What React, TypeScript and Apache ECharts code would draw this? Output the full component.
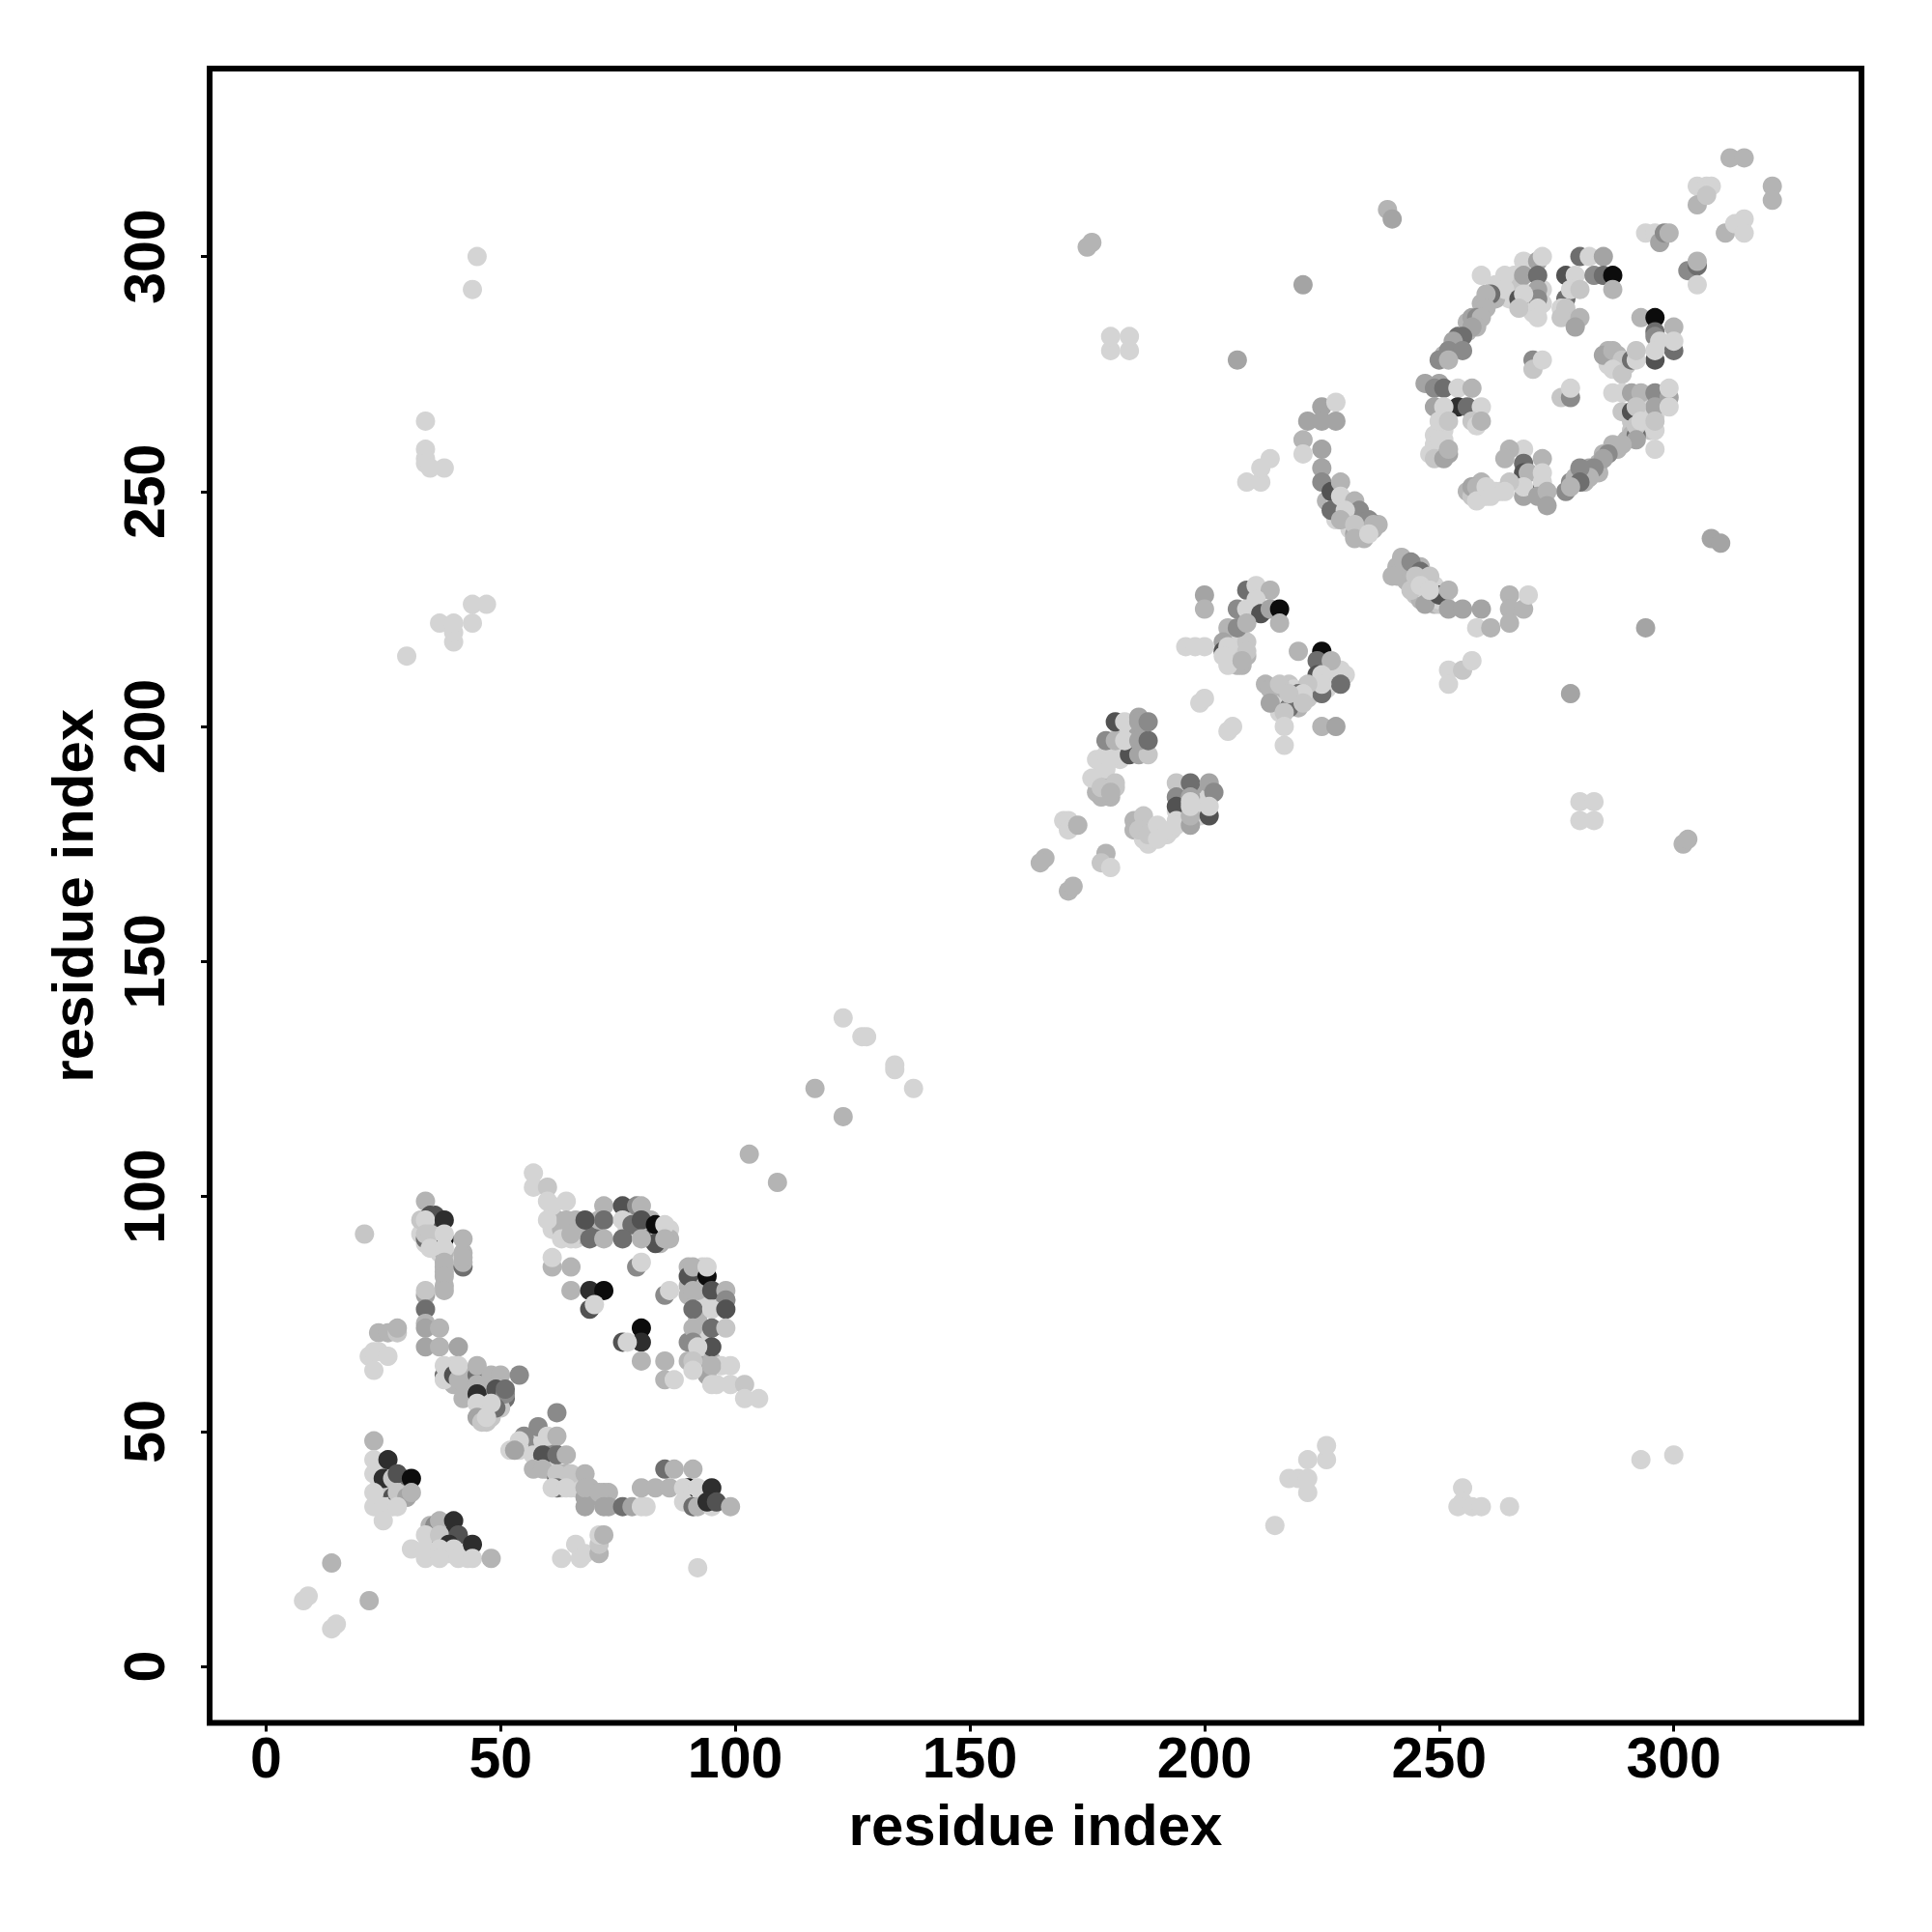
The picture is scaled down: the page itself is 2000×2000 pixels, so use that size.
import React, { useEffect, useRef } from "react";
import * as echarts from "echarts";

type Contact = [number, number, number];

const tickValues = [0, 50, 100, 150, 200, 250, 300];
const axisTitle = "residue index";
// grey strength level per contact: 1 faint ... 9 strongest
const levelGreys = ["#d4d4d4", "#c6c6c6", "#b4b4b4", "#a4a4a4", "#8a8a8a", "#6e6e6e", "#525252", "#2e2e2e", "#0c0c0c"];

const denseLower: Contact[] = [
  [40,64,1],[40,60,3],[42,60,3],[43,62,3],[43,59,3],[44,62,3],[47,60,4],[47,58,1],[46,56,1],[48,58,2],[47,55,1],[48,54,2],[47,52,2],[49,57,2],[50,58,3],[51,57,6],[46,59,2],[45,61,3],[50,55,2],[48,53,2],
  [54,46,1],[55,47,1],[56,46,1],[56,48,1],[57,47,1],[58,47,5],[58,45,1],[59,48,1],[60,47,1],[61,46,5],[60,42,3],[60,44,5],[61,43,1],[63,41,3],[63,39,7],[63,38,1],[64,41,3],[66,40,3],[66,38,1],[65,38,1],[67,38,1],[69,38,3],[69,36,4],[68,36,4],[72,37,3],[73,37,3],[73,34,4],[81,34,1],
  [24,42,1],[24,40,1],[24,37,1],[24,34,1],[26,36,1],[26,37,2],[27,36,7],[29,38,3],[29,36,3],[30,38,2],[29,40,6],[26,34,1],[27,34,1],
  [35,30,3],[36,29,3],[36,27,1],[36,25,1],[38,27,1],[38,25,1],[35,25,1],[37,30,3],[38,29,3],[39,28,8],[39,24,1],[42,25,1],[42,24,1],[43,23,1],
  [33,92,1],[34,90,1],[36,91,1],[37,90,1],[36,89,1],[36,93,2],[33,95,2],[36,96,7],[37,88,1],[38,88,3],[38,85,3],[38,84,3],[38,81,3],[42,88,3],
  [61,93,1],[61,96,1],[62,95,3],[63,93,3],[64,93,3],[66,91,1],[66,95,3],[67,92,3],[70,92,6],[71,95,3],[77,95,1],[77,93,1],[81,92,3],[82,91,7],[84,92,3],[84,90,3],[86,93,1],[86,91,3],[82,95,3],[61,98,1],
  [90,85,3],[92,84,3],[93,80,1],[93,85,1],[90,81,3],[92,82,1],[90,79,3],[94,78,1],[93,76,1],[90,69,5],[93,70,1],[93,66,1],[92,64,3],[90,65,3],[93,64,4],[95,65,3],[94,62,4],[97,64,1],[96,60,1],[98,78,3],[92,74,3],[92,80,3],
];

const denseUpper: Contact[] = [
  [205,219,1],[206,218,1],[206,216,1],[207,215,1],[208,217,1],[209,218,2],[207,213,3],[208,213,3],[209,215,3],[206,214,2],[205,213,1],
  [177,188,1],[178,190,1],[179,188,2],[178,185,3],[180,185,3],[179,187,3],[181,187,2],[177,186,3],
  [213,209,3],[215,208,2],[216,206,2],[217,205,2],[219,205,2],[216,203,1],[215,205,1],[218,209,2],[220,204,3],[222,206,2],[217,208,3],[219,208,1],
  [228,212,1],[229,212,1],[229,210,1],[226,210,1],[225,212,1],[226,208,1],[224,208,1],
  [185,180,3],[185,178,3],[187,179,2],[189,178,1],[188,175,1],[187,176,1],[191,178,1],[192,177,1],[193,178,1],
  [199,184,1],[199,182,1],[198,186,4],[200,184,1],[199,181,1],[201,185,1],[194,182,1],[196,181,1],
  [182,199,1],[184,199,1],[183,195,1],[182,193,1],[180,193,1],[184,196,1],[183,199,1],[177,193,1],[186,199,4],
  [243,233,3],[243,231,3],[245,228,2],[246,227,3],[247,229,1],[248,227,2],[249,226,3],[250,226,2],[249,230,1],[247,231,1],[248,230,1],[251,227,1],[249,228,7],[250,227,1],[245,234,5],[246,234,3],[241,234,3],[241,232,3],[243,235,3],
  [249,262,1],[250,263,1],[251,263,1],[251,261,1],[249,260,1],[250,259,2],[252,258,4],[249,259,1],[250,258,3],[251,258,3],
  [262,294,1],[263,292,1],[265,295,1],[266,296,1],[266,293,1],[265,291,1],[267,294,2],[269,292,1],[270,290,1],[270,288,1],[272,290,1],[272,293,1],
  [291,265,2],[292,266,2],[294,266,1],[294,264,1],[295,263,2],[296,263,1],[296,266,1],[294,268,1],[291,263,2],
  [286,277,1],[288,277,1],[287,278,2],[288,279,3],[290,277,2],[286,280,3],
  [256,250,3],[259,249,1],[259,250,1],[260,249,1],[261,250,1],[262,250,1],[263,250,1],[258,249,3],[257,249,2],[259,252,3],
  [251,279,3],[254,283,6],[254,281,3],[256,284,3],[256,286,3],[257,287,4],[259,290,3],[260,291,3],[262,291,3],
  [278,252,5],[279,253,3],[281,254,6],[282,255,4],[284,256,3],[285,258,3],[288,259,3],[290,261,3],[291,262,3],[281,252,3],[284,254,3],
  [226,248,3],[228,246,1],[228,248,1],[228,244,1],[230,244,1],[230,248,2],[231,246,2],[231,244,1],[233,243,2],[233,241,3],[234,244,6],[235,243,3],[234,240,3],[236,242,3],[237,243,3],[231,242,1],[232,241,4],
];

const lowerBlockUpper: Contact[] = [
  [34,99,3],[42,85,6],[34,91,6],[38,91,9],[35,96,7],[35,95,7],[34,95,1],[38,95,8],[34,92,2],[35,92,2],[38,92,1],[42,91,3],[35,89,1],[38,89,1],[38,86,3],[42,86,3],[42,87,3],[38,83,3],[38,80,3],[34,79,4],[34,80,2],[34,76,6],[34,73,3],[34,72,4],[37,72,3],[34,68,4],[37,68,3],[41,68,4],
  [24,71,3],[26,71,3],[28,71,2],[28,72,3],[22,66,1],[23,67,1],[24,67,1],[26,66,1],[23,63,1],[21,92,2],
  [38,62,6],[38,61,1],[38,64,1],[40,62,7],[41,61,3],[41,64,1],[42,57,3],[45,62,6],[45,60,3],[45,58,8],[45,64,3],[45,56,1],[48,62,3],[50,62,3],[54,62,5],[49,59,7],[51,58,5],[51,59,6],[49,55,6],[48,56,1],[45,53,4],[46,52,2],[47,53,1],
  [57,105,1],[57,102,1],[60,102,2],[60,99,1],[60,95,1],[64,99,1],[64,95,3],[68,95,7],[72,98,3],[72,95,6],[76,98,7],[76,95,1],[79,98,5],[80,98,3],[78,94,6],[80,95,7],[83,94,9],[85,94,1],[63,91,1],[65,91,1],[65,92,3],[69,91,6],[72,91,3],[76,91,6],[83,90,7],[80,91,3],[85,91,3],
  [61,85,3],[61,87,1],[65,85,3],[79,85,5],[80,86,1],[65,80,3],[69,80,8],[72,80,9],[69,76,7],[70,77,1],[85,79,5],[86,80,1],
  [90,83,7],[91,85,3],[94,83,9],[94,85,1],[91,80,3],[95,80,7],[98,80,3],[98,78,5],[91,76,6],[95,76,1],[98,76,7],[91,72,3],[95,72,6],[98,72,2],[91,69,5],[95,68,7],[92,68,1],[91,65,2],[91,63,1],[95,64,3],[99,64,1],[95,60,1],[99,60,1],[102,60,2],[102,57,1],[105,57,1],
  [80,72,9],[80,69,8],[76,69,7],[77,69,1],[80,65,3],[85,65,3],[85,61,3],[87,61,1],[103,109,3],[109,103,3],
];

const lowerBlockLower: Contact[] = [
  [62,54,5],[58,51,5],[60,49,1],[62,49,3],[55,49,5],[54,48,1],[52,46,1],[53,46,4],[57,45,1],[59,45,7],[62,45,6],[64,45,3],[57,42,3],[59,42,3],[62,40,7],[62,41,2],[65,41,2],[68,41,3],[62,38,6],[61,38,1],[64,38,1],[68,38,3],[71,37,3],[68,34,4],[72,34,4],[76,34,6],[78,34,4],[80,34,1],
  [80,38,3],[83,38,3],[86,38,3],[85,42,6],[87,42,3],[91,42,3],[90,38,9],[89,38,1],[92,38,1],[95,38,8],[89,35,1],[91,34,6],[92,34,3],[95,34,1],[94,35,8],[96,35,7],[99,34,3],
  [23,48,3],[23,44,1],[26,44,8],[23,41,1],[25,40,8],[27,40,2],[28,41,7],[31,40,9],[23,37,1],[28,35,7],[28,37,2],[30,36,4],[31,37,3],[23,34,1],[25,34,1],[28,34,1],[25,31,1],
  [36,30,5],[37,31,3],[40,31,8],[35,27,7],[34,28,1],[37,28,2],[41,28,7],[39,26,8],[44,26,8],[31,25,1],[34,25,1],[37,25,1],[40,25,1],[34,23,1],[37,23,1],[41,23,1],[44,23,1],[48,23,3],
  [63,23,1],[66,26,1],[67,23,1],[68,24,1],[71,24,3],[71,26,2],[71,28,1],[72,28,3],[92,21,1],
  [14,22,3],[22,14,3],[9,15,1],[8,14,1],[15,9,1],[14,8,1],
];

const bridgeContacts: Contact[] = [
  [117,123,3],[123,117,3],[123,138,1],[127,134,1],[128,134,1],[134,127,1],[134,128,1],[138,123,1],
];

const middleBlock: Contact[] = [
  [166,172,3],[165,171,3],[171,165,3],[172,166,3],[179,173,3],[178,171,2],[180,170,1],[170,180,1],[171,180,1],[171,178,1],[173,179,3],
  [176,189,1],[179,191,1],[178,187,2],[181,188,2],[180,186,3],[179,194,1],[181,194,1],[184,194,7],[186,194,4],[188,194,2],[179,197,5],[181,197,3],[183,197,1],[186,197,4],[188,197,6],[181,201,7],[183,201,1],[186,202,4],[186,201,4],[188,201,5],
  [186,180,3],[187,181,2],[186,178,2],[188,177,2],[190,179,1],[190,176,1],[194,188,2],[194,185,5],[194,183,7],[194,180,1],[194,179,1],[197,188,6],[197,185,4],[197,179,4],[197,181,3],[197,183,1],[197,184,1],[201,188,4],[202,186,5],[201,181,7],[201,183,1],
  [199,205,1],[200,206,1],[205,199,1],[206,200,1],[196,217,1],[198,217,1],[200,217,1],[200,228,4],[200,225,3],
  [209,229,6],[211,230,1],[214,229,3],[211,227,1],[207,225,5],[209,225,1],[212,224,7],[214,225,4],[216,225,9],[216,222,3],[205,221,3],[207,221,5],[209,222,3],[204,218,4],[204,216,7],[205,217,1],[204,215,1],[209,216,2],[208,214,3],
  [220,216,3],[225,216,9],[224,214,6],[227,214,3],[224,211,7],[225,211,1],[230,211,1],[229,209,6],[225,207,6],[225,209,1],[222,209,2],[220,207,6],[221,207,1],[214,208,3],[216,209,2],[214,205,4],[218,204,6],[218,207,2],[217,203,2],[221,205,2],[217,200,1],[217,196,1],[225,200,3],[228,200,4],
  [252,212,1],[252,209,1],[255,212,2],[257,214,1],[209,252,1],[212,252,1],[212,255,1],[214,257,1],
  [240,232,3],[242,236,3],[244,235,5],[246,233,6],[244,229,2],[245,232,2],[248,232,2],[247,226,4],[246,230,1],[250,228,7],[248,229,1],[252,229,3],[252,225,4],[255,225,4],[259,225,4],[258,221,1],[261,221,3],[265,228,3],[265,225,3],[265,222,3],[268,225,3],[269,228,1],
];

const upperBlock: Contact[] = [
  [312,321,3],[315,321,3],[305,315,1],[307,315,1],[308,315,1],[321,315,3],[321,312,3],[305,311,3],[307,313,2],[311,305,3],[313,307,1],[315,308,1],[315,305,1],
  [294,305,1],[296,305,1],[297,303,4],[298,305,5],[299,305,3],[303,297,5],[305,298,6],[305,299,3],[305,294,1],
  [239,310,3],[240,308,4],[221,294,4],[259,296,1],[264,296,1],[268,299,1],[271,299,4],[272,300,1],[268,296,4],[271,296,6],[271,293,4],[271,291,5],[264,293,1],[267,291,7],[268,292,1],[267,289,2],[271,289,1],[271,287,1],
  [280,300,6],[282,300,1],[285,300,4],[277,296,7],[279,296,1],[283,296,5],[285,296,6],[287,296,9],[287,293,3],[277,291,6],[278,293,1],[280,293,2],[276,289,1],[277,289,2],[276,287,2],[280,287,3],[279,285,4],
  [261,292,6],[260,292,3],[260,289,3],[258,287,5],[259,287,3],[258,285,3],[257,285,4],[255,283,6],[253,282,4],[252,280,5],[255,280,5],[250,278,5],[252,278,3],
  [247,273,4],[250,273,4],[249,272,5],[251,272,6],[254,272,1],[257,272,3],[249,268,4],[254,268,8],[251,268,1],[256,268,6],[259,268,1],[250,265,1],[252,265,2],[257,265,2],[258,264,1],[259,265,3],[250,261,1],[248,258,1],[249,257,2],[251,257,4],[252,259,3],
  [270,278,5],[270,276,2],[272,278,1],[276,270,2],[278,270,5],[278,272,1],
  [293,287,3],[296,287,9],[296,284,6],[296,283,5],[300,285,3],[297,282,1],[300,280,6],[300,282,1],[296,278,7],[296,280,1],[285,279,4],[287,280,3],[289,278,2],[287,276,1],[289,275,2],[291,278,6],[292,278,1],[292,280,2],
  [287,271,1],[289,271,1],[291,271,4],[293,271,3],[296,271,5],[299,270,4],[299,272,1],[296,268,4],[299,268,1],[289,267,2],[291,267,7],[292,268,2],[292,262,6],[292,264,2],[293,265,1],[296,265,2],[296,259,1],
  [292,261,4],[289,260,3],[287,260,3],[286,258,5],[285,257,4],[283,255,5],[282,253,3],[280,255,5],[280,252,6],[277,250,5],[278,251,3],
  [272,257,3],[268,259,1],[265,259,3],[264,257,3],[268,256,6],[268,254,7],[269,254,3],[272,254,1],[272,251,7],[272,252,1],[268,249,4],[268,251,1],[265,252,2],[271,249,4],[273,250,3],[273,247,4],
  [257,251,4],[258,251,3],[258,248,1],[260,251,1],[261,249,1],[264,250,1],
  [225,268,4],[228,269,1],[222,265,4],[225,265,4],[228,265,4],[221,261,3],[225,259,4],[221,258,1],[225,255,4],[225,252,5],[227,250,7],[229,252,3],[227,246,6],[229,249,1],[232,248,3],[233,246,5],[235,244,5],[230,246,1],[229,244,3],[232,243,2],[236,243,3],[232,240,3],[235,241,1],
];

const distantContacts: Contact[] = [
  [45,300,1],[44,293,1],[34,265,1],[34,259,1],[34,257,1],[34,256,1],[35,255,1],[38,255,1],[30,215,1],[37,222,1],[40,218,1],[40,220,1],[40,222,1],[44,222,1],[44,226,1],[47,226,1],
  [215,30,1],[218,40,1],[220,40,1],[222,40,1],[222,44,1],[222,37,1],[226,44,1],[226,47,1],[255,38,1],[255,35,1],[254,34,1],[257,34,1],[259,34,1],[265,34,1],[293,44,1],[300,45,1],
  [175,302,3],[176,303,3],[302,175,3],[303,176,3],[180,280,1],[180,283,1],[184,280,1],[184,283,1],[280,180,1],[283,180,1],[280,184,1],[283,184,1],
  [207,278,4],[278,207,4],[294,221,4],[308,240,4],[310,239,4],
];

const allContacts: Contact[] = [...denseLower, ...denseUpper, ...lowerBlockUpper, ...lowerBlockLower, ...bridgeContacts, ...middleBlock, ...upperBlock, ...distantContacts];

const FONT = "'Liberation Sans', Arial, sans-serif";

export default function App() {
  const ref = useRef<HTMLDivElement>(null);
  useEffect(() => {
    const chart = echarts.init(ref.current!, undefined, { renderer: "svg" });
    const axisBase = {
      type: "value",
      min: -12,
      max: 340,
      name: axisTitle,
      nameLocation: "middle",
      nameTextStyle: { fontFamily: FONT, fontWeight: "bold", fontSize: 60, color: "#000" },
      axisLine: { show: false, onZero: false },
      splitLine: { show: false },
      axisTick: { show: true, length: 9, inside: false, customValues: tickValues, lineStyle: { color: "#000", width: 3 } },
    };
    const labelBase = { customValues: tickValues, fontFamily: FONT, fontWeight: "bold", fontSize: 59, color: "#000" };
    chart.setOption({
      animation: false,
      backgroundColor: "#fff",
      grid: { left: 217, right: 73, top: 71, bottom: 216.5, show: true, borderColor: "#000", borderWidth: 6, backgroundColor: "transparent" },
      xAxis: { ...axisBase, nameGap: 76, axisLabel: { ...labelBase, margin: 7 } },
      yAxis: { ...axisBase, nameGap: 112, nameRotate: 90, axisLabel: { ...labelBase, rotate: 90, margin: 38 } },
      series: [
        {
          type: "scatter",
          symbol: "circle",
          symbolSize: 20,
          silent: true,
          data: allContacts.map((c) => ({ value: c, itemStyle: { color: levelGreys[c[2] - 1], opacity: 1 } })),
        },
      ],
    });
    return () => chart.dispose();
  }, []);
  return <div ref={ref} style={{ position: "fixed", left: 0, top: 0, width: 2000, height: 2000, background: "#fff" }} />;
}
